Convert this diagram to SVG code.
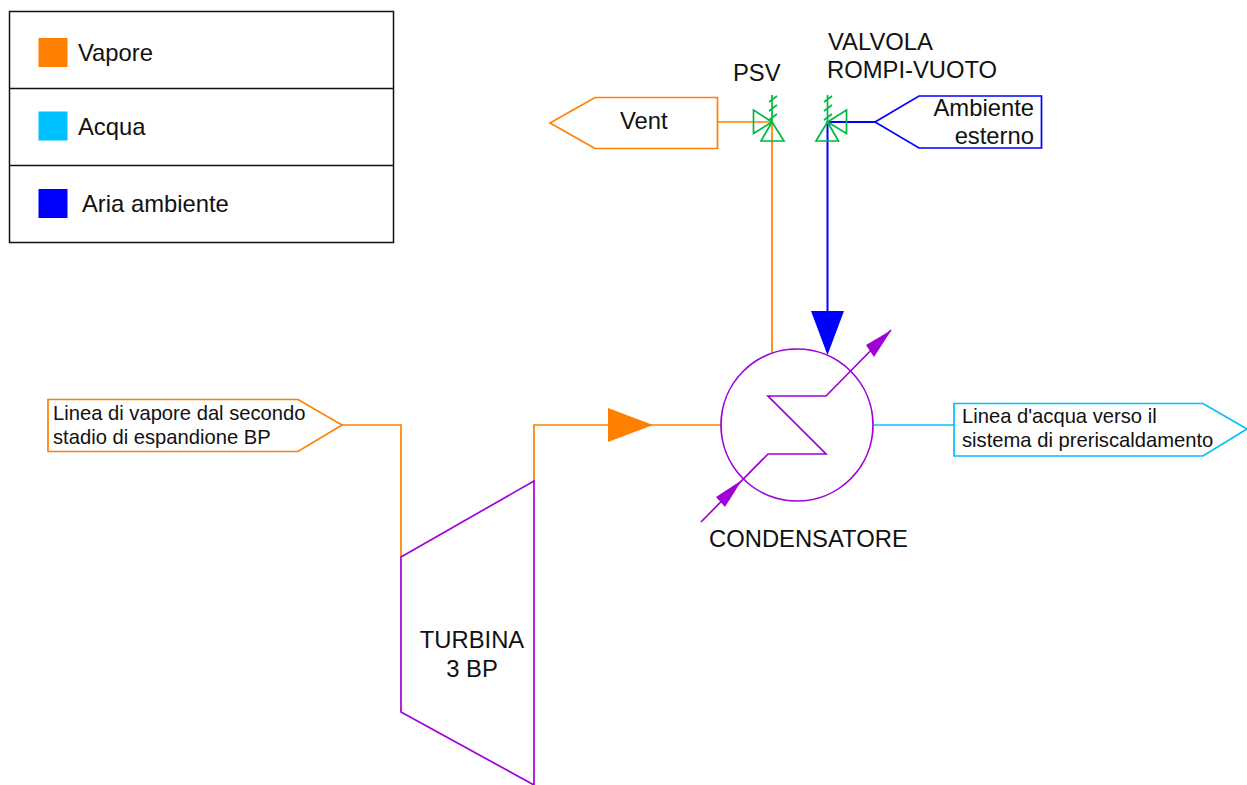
<svg xmlns="http://www.w3.org/2000/svg" width="1247" height="785" viewBox="0 0 1247 785">
<style>
text{font-family:"Liberation Sans",Arial,sans-serif;fill:#111}
.l{font-size:23.800px}.s{font-size:20.200px}
.ln{fill:none;stroke-width:1.700}
.o{stroke:#ff8000}.c{stroke:#00bfff}.b{stroke:#0000ff}.p{stroke:#a000d8}.g{stroke:#00b840}
.k{fill:none;stroke:#111;stroke-width:1.500}
</style>
<rect width="1247" height="785" fill="#fff"/>
<g id="legenda">
<rect class="k" x="9.500" y="11.500" width="384" height="231"/>
<path class="k" d="M9.500 88.500H393.500M9.500 165.500H393.500"/>
<rect x="38.500" y="38" width="29" height="29" fill="#ff8000"/>
<rect x="38.500" y="111.500" width="29" height="29" fill="#00bfff"/>
<rect x="38.500" y="189" width="29" height="29" fill="#0000ff"/>
<text class="l" x="78" y="61">Vapore</text>
<text class="l" x="78" y="135">Acqua</text>
<text class="l" x="82" y="212">Aria ambiente</text>
</g>
<g id="connectors">
<path class="ln o" d="M342 425H401V557"/>
<path class="ln o" d="M534 481V425H721"/>
<path d="M608 408L653 425L608 442Z" fill="#ff8000"/>
<path class="ln o" d="M717 122H772V353"/>
<path class="ln b" style="stroke-width:2" d="M875 122H827.500V312"/>
<path d="M811 311H844L827.500 355Z" fill="#0000ff"/>
<path class="ln c" d="M874 425H954"/>
</g>
<g id="vent">
<path class="ln o" d="M717.500 97.500H595L550 123L595 148.500H717.500Z"/>
<text class="l" x="620" y="129">Vent</text>
</g>
<g id="psv">
<path class="ln g" d="M772 122L753.500 110V133.500Z"/>
<path class="ln g" d="M772 122L761 141H784Z"/>
<path class="ln g" d="M772 122V95M769 102L777 96M769 111L777 105M769 120L777 114"/>
<text class="l" x="733" y="81">PSV</text>
</g>
<g id="valvola">
<path class="ln g" d="M827.500 122L846.500 110V133.500Z"/>
<path class="ln g" d="M827.500 122L816 141H838.500Z"/>
<path class="ln g" d="M827.500 122V95M824 102L832 96M824 111L832 105M824 120L832 114"/>
<text class="l" x="828" y="50">VALVOLA</text>
<text class="l" x="827" y="78">ROMPI-VUOTO</text>
</g>
<g id="ambiente">
<path class="ln b" d="M875 122L919 96H1041.500V148H919Z"/>
<text class="l" x="1034" y="116" text-anchor="end">Ambiente</text>
<text class="l" x="1034" y="144" text-anchor="end">esterno</text>
</g>
<g id="linea-vapore">
<path class="ln o" d="M48 399.500H298L342 425L298 451.500H48Z"/>
<text class="s" x="53" y="420">Linea di vapore dal secondo</text>
<text class="s" x="53" y="444">stadio di espandione BP</text>
</g>
<g id="linea-acqua">
<path class="ln c" d="M954 403.500H1203L1247 429L1203 456H954Z"/>
<text class="s" x="962" y="423">Linea d'acqua verso il</text>
<text class="s" x="962" y="447">sistema di preriscaldamento</text>
</g>
<g id="turbina">
<path class="ln p" d="M401 557L534 481V785L401 712Z"/>
<text class="l" x="472" y="648" text-anchor="middle">TURBINA</text>
<text class="l" x="472" y="677" text-anchor="middle">3 BP</text>
</g>
<g id="condensatore">
<circle class="ln p" cx="797" cy="425" r="76"/>
<path class="ln p" d="M701 522L768 454H826L768 396H826L891 330"/>
<path d="M891.500 330L866 345L874 357Z" fill="#a000d8"/>
<path d="M742 480L716 497L725 507Z" fill="#a000d8"/>
<text class="l" x="709" y="547">CONDENSATORE</text>
</g>
</svg>
